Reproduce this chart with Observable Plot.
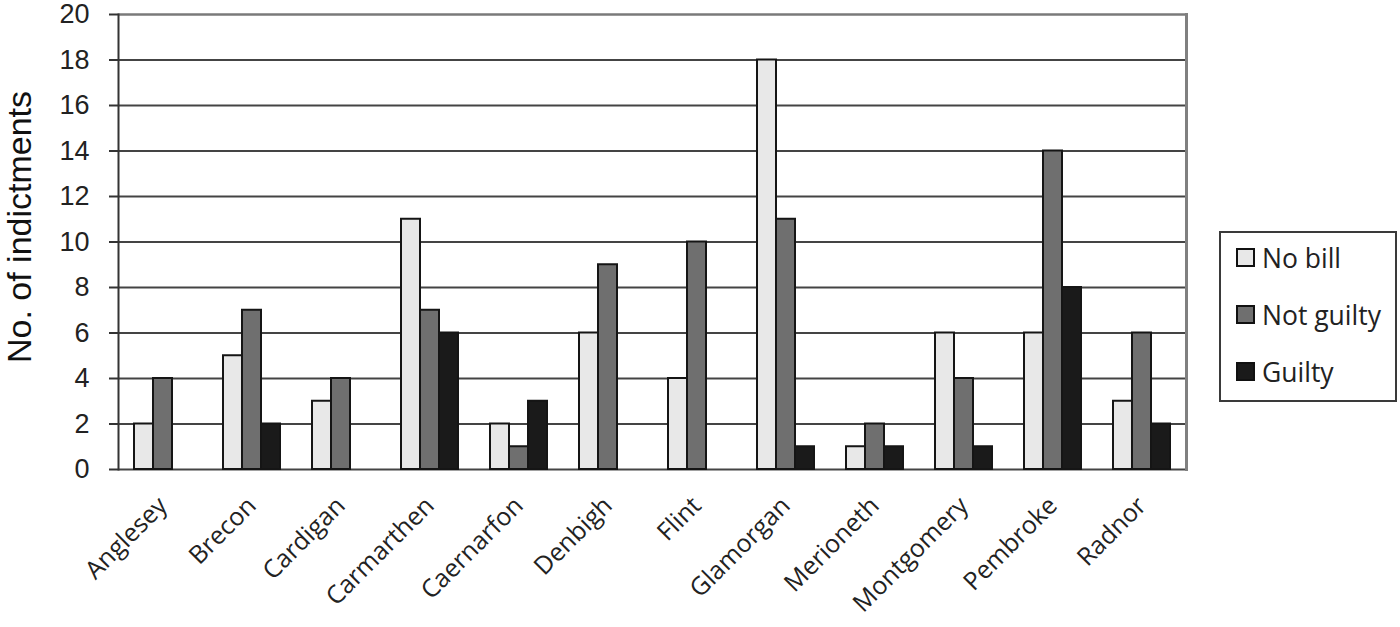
<!DOCTYPE html>
<html><head><meta charset="utf-8">
<script src="https://cdn.jsdelivr.net/npm/d3@7"></script>
<script src="https://cdn.jsdelivr.net/npm/@observablehq/plot@0.6"></script>
<style>
body{margin:0;background:#fff;}
#wrap{position:relative;width:1400px;height:627px;overflow:hidden;}
#legend{position:absolute;left:1219px;top:231px;width:178px;height:171px;border:2px solid #3a3a3a;box-sizing:border-box;
  font-family:"Open Sans",sans-serif;font-size:26.5px;color:#222;padding:0 0 0 15px;}
.item{display:flex;align-items:center;height:57px;position:relative;top:-4px;}
.sw{width:15px;height:15px;border:2px solid #111;margin-right:7px;}
</style></head><body><div id="wrap"></div>
<script>
const counties = ["Anglesey","Brecon","Cardigan","Carmarthen","Caernarfon","Denbigh","Flint","Glamorgan","Merioneth","Montgomery","Pembroke","Radnor"];
const series = ["No bill","Not guilty","Guilty"];
const noBill    = [2,5,3,11,2,6,4,18,1,6,6,3];
const notGuilty = [4,7,4,7,1,9,10,11,2,4,14,6];
const guilty    = [0,2,0,6,3,0,0,1,1,1,8,2];
const yTicks = [0,2,4,6,8,10,12,14,16,18,20];
const colors = ["#e8e8e8","#6f6f6f","#1a1a1a"];

const values = [noBill, notGuilty, guilty];
const rows = [];
counties.forEach((c,i)=>series.forEach((s,j)=>rows.push({county:c, series:s, value:values[j][i]})));

const plot = Plot.plot({
  width: 1400, height: 627,
  marginLeft: 117, marginRight: 213, marginTop: 14, marginBottom: 158,
  style: {fontFamily: "'Liberation Sans', Arial, sans-serif", background: "#fff", color: "#222", overflow: "visible"},
  fx: {domain: counties, padding: 0, label: null, axis: null},
  x: {domain: series, axis: null, paddingInner: 0, paddingOuter: 0.8},
  y: {domain: [0, 20], axis: null},
  color: {domain: series, range: colors},
  marks: [
    Plot.ruleY(yTicks.filter(d => d < 20), {y: d => d, stroke: "#444", strokeWidth: 2}),
    Plot.ruleY([20], {stroke: "#7a7a7a", strokeWidth: 2.5}),
    Plot.frame({anchor: "left", facetAnchor: "left", stroke: "#333", strokeWidth: 2}),
    Plot.frame({anchor: "right", facetAnchor: "right", stroke: "#808080", strokeWidth: 3}),
    Plot.barY(rows.filter(d => d.value > 0), {fx: "county", x: "series", y: "value", fill: "series", stroke: "#151515", strokeWidth: 2}),
    Plot.axisY({ticks: yTicks, tickSize: 9, tickPadding: 20, label: null, fontSize: 27, stroke: "#333", strokeWidth: 2, facetAnchor: "left"}),
    Plot.axisFx({anchor: "bottom", tickRotate: -45, tickSize: 0, tickPadding: 32, label: null, fontSize: 25, fontFamily: "'Open Sans', sans-serif"}),
    Plot.text(["No. of indictments"], {fx: () => counties[0], frameAnchor: "left", textAnchor: "middle", rotate: -90, dx: -98, dy: -15, fontSize: 34, fill: "#111"})
  ]
});
document.getElementById("wrap").appendChild(plot);

const legend = document.createElement("div");
legend.id = "legend";
series.forEach((s,j) => {
  const it = document.createElement("div"); it.className = "item";
  const sw = document.createElement("div"); sw.className = "sw"; sw.style.background = colors[j];
  const t = document.createElement("span"); t.textContent = s;
  it.appendChild(sw); it.appendChild(t); legend.appendChild(it);
});
document.getElementById("wrap").appendChild(legend);
</script></body></html>
